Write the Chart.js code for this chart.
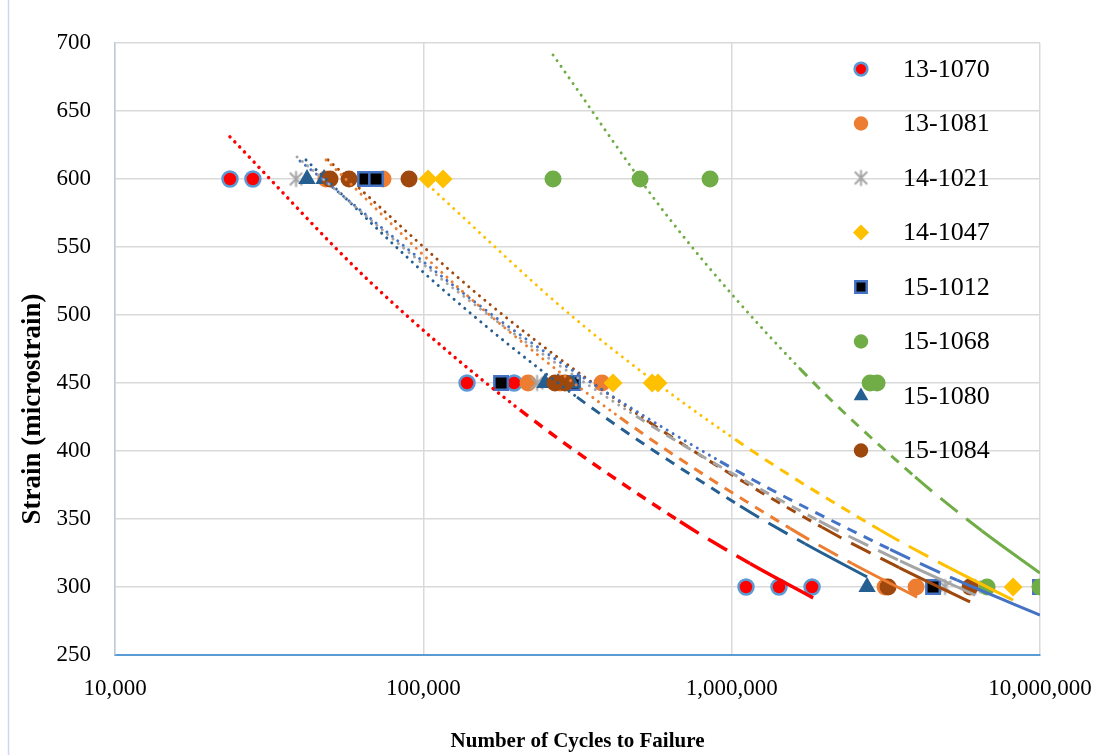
<!DOCTYPE html>
<html>
<head>
<meta charset="utf-8">
<script src="https://cdn.jsdelivr.net/npm/chart.js@4.4.1/dist/chart.umd.min.js"></script>
<style>
  html, body { margin: 0; padding: 0; background: #fff; }
  #wrap { width: 1105px; height: 755px; }
</style>
</head>
<body>
<div id="wrap"><canvas id="chart" width="1105" height="755"></canvas></div>
<script>
// Nomes das séries (legenda)
const seriesNames = ["13-1070", "13-1081", "14-1021", "14-1047", "15-1012", "15-1068", "15-1080", "15-1084"];

// Ciclos até a falha e deformação de cada ensaio
const cycles1070 = [23600, 28000, 138600, 196900, 1113000, 1424000, 1823000];
const strain1070 = [600, 600, 450, 450, 300, 300, 300];
const cycles1081 = [48300, 74000, 218600, 277500, 379800, 3145000, 3963000];
const strain1081 = [600, 600, 450, 450, 450, 300, 300];
const cycles1021 = [38650, 233700, 4920000, 6160000];
const strain1021 = [600, 450, 300, 300];
const cycles1047 = [103600, 115900, 412400, 552000, 577000, 8180000];
const strain1047 = [600, 600, 450, 450, 450, 300];
const cycles1012 = [64700, 70250, 178700, 305900, 4500000, 10000000];
const strain1012 = [600, 600, 450, 450, 300, 300];
const cycles1068 = [263400, 504600, 851000, 2812000, 2962000, 6735000, 10000000];
const strain1068 = [600, 600, 600, 450, 450, 300, 300];
const cycles1080 = [41950, 47640, 248100, 273500, 303600, 2749000];
const strain1080 = [600, 600, 450, 450, 450, 300];
const cycles1084 = [49820, 57410, 89870, 267400, 288100, 3216000, 5933000];
const strain1084 = [600, 600, 600, 450, 450, 300, 300];

// Linhas de tendência, lidas ao longo de cada curva
const trendCycles1070 = [23600, 67160, 205900, 680000, 1147000, 1837000];
const trendStrain1070 = [631, 524.4, 430.2, 348.1, 317.3, 292];
const trendCycles1081 = [48350, 141700, 434500, 1547000, 2458000, 3994000];
const trendStrain1081 = [614, 512.5, 424.6, 343.1, 317.3, 292.6];
const trendCycles1021 = [38930, 131500, 489700, 1920000, 3517000, 6159000];
const trendStrain1021 = [616.2, 515.8, 425.7, 348.6, 319.2, 294.1];
const trendCycles1047 = [103600, 322300, 1026000, 3029000, 5073000, 8180000];
const trendStrain1047 = [595.6, 494.2, 408.6, 341.9, 314.2, 290.4];
const trendCycles1012 = [39820, 177400, 917200, 3265000, 5384000, 10000000];
const trendStrain1012 = [613.2, 495.9, 392.4, 327.7, 305.0, 279.4];
const trendCycles1068 = [263400, 631200, 1667000, 3935000, 6490000, 10000000];
const trendStrain1068 = [691.2, 570.2, 460.4, 381.0, 341.2, 310.3];
const trendCycles1080 = [41640, 113300, 315100, 1065000, 1730000, 2749000];
const trendStrain1080 = [614, 520.5, 439.6, 359.6, 331.8, 307.4];
const trendCycles1084 = [49080, 164600, 539800, 1964000, 3491000, 5933000];
const trendStrain1084 = [614, 507.7, 421.3, 343.9, 314.3, 289];

// Eixos
const xTicks = [10000, 100000, 1000000, 10000000];
const yMin = 250, yMax = 700, yStep = 50;

const allCycles = [cycles1070, cycles1081, cycles1021, cycles1047, cycles1012, cycles1068, cycles1080, cycles1084];
const allStrain = [strain1070, strain1081, strain1021, strain1047, strain1012, strain1068, strain1080, strain1084];
const allTrendCycles = [trendCycles1070, trendCycles1081, trendCycles1021, trendCycles1047, trendCycles1012, trendCycles1068, trendCycles1080, trendCycles1084];
const allTrendStrain = [trendStrain1070, trendStrain1081, trendStrain1021, trendStrain1047, trendStrain1012, trendStrain1068, trendStrain1080, trendStrain1084];

// Estilo
const serif = "'Liberation Serif', 'Times New Roman', serif";
const lineColors = ["#FF0000", "#ED7D31", "#A5A5A5", "#FFC000", "#4472C4", "#70AD47", "#255E91", "#9E480E"];

function makeStar(color, size) {
    const c = document.createElement("canvas");
    c.width = size; c.height = size;
    const g = c.getContext("2d");
    const m = size / 2, r = size / 2 - 1.5, d = r * 0.78;
    g.strokeStyle = color;
    g.lineWidth = 2;
    g.beginPath();
    g.moveTo(m - d, m - d); g.lineTo(m + d, m + d);
    g.moveTo(m + d, m - d); g.lineTo(m - d, m + d);
    g.moveTo(m, m - r); g.lineTo(m, m + r);
    g.stroke();
    return c;
}

const markers = [
    { style: "circle", radius: 7.5, fill: "#FF0000", border: "#5B9BD5", bw: 2.5 },
    { style: "circle", radius: 8.5, fill: "#ED7D31", border: "#ED7D31", bw: 0 },
    { style: makeStar("#A5A5A5", 19), radius: 9, fill: "#A5A5A5", border: "#A5A5A5", bw: 0 },
    { style: "rectRot", radius: 9.5, fill: "#FFC000", border: "#FFC000", bw: 0 },
    { style: "rect", radius: 9.5, fill: "#000000", border: "#4472C4", bw: 2.5 },
    { style: "circle", radius: 8.5, fill: "#70AD47", border: "#70AD47", bw: 0 },
    { style: "triangle", radius: 10, fill: "#255E91", border: "#255E91", bw: 0 },
    { style: "circle", radius: 8.5, fill: "#9E480E", border: "#9E480E", bw: 0 }
];

// pontilhado -> tracejado -> traço longo -> contínuo
const segStyles = ["dot", "dot", "dash", "long", "solid"];
const dashes = { dot: [0.01, 7], dash: [10, 8], long: [22, 11], solid: [] };

const datasets = [];
seriesNames.forEach((name, i) => {
    datasets.push({
        type: "line",
        label: name + " trend",
        isTrend: true,
        order: 0,
        data: allTrendCycles[i].map((c, k) => ({ x: c, y: allTrendStrain[i][k] })),
        borderColor: lineColors[i],
        borderWidth: i === 0 ? 3.5 : 3,
        pointRadius: 0,
        fill: false,
        cubicInterpolationMode: "monotone",
        segment: {
            borderDash: ctx => dashes[segStyles[ctx.p0DataIndex]],
            borderCapStyle: ctx => segStyles[ctx.p0DataIndex] === "dot" ? "round" : "butt"
        }
    });
});
seriesNames.forEach((name, i) => {
    const m = markers[i];
    datasets.push({
        type: "scatter",
        label: name,
        order: 10 - i,
        data: allCycles[i].map((c, k) => ({ x: c, y: allStrain[i][k] })),
        pointStyle: m.style,
        pointRadius: m.radius,
        pointHoverRadius: m.radius,
        pointBackgroundColor: m.fill,
        pointBorderColor: m.border,
        pointBorderWidth: m.bw,
        showLine: false
    });
});

// Legenda à direita, sobre a área do gráfico
const legendPlugin = {
    id: "sideLegend",
    afterDraw(chart) {
        const ctx = chart.ctx;
        const items = chart.data.datasets.filter(d => !d.isTrend);
        ctx.save();
        items.forEach((d, k) => {
            const y = 69 + k * 54.5;
            const x = 861;
            ctx.fillStyle = d.pointBackgroundColor;
            ctx.strokeStyle = d.pointBorderColor;
            ctx.lineWidth = d.pointBorderWidth;
            const r = d.pointRadius * 0.85;
            if (Chart.helpers && Chart.helpers.drawPoint) {
                Chart.helpers.drawPoint(ctx, { pointStyle: d.pointStyle, radius: r, rotation: 0, borderWidth: d.pointBorderWidth }, x, y);
            } else {
                ctx.beginPath(); ctx.arc(x, y, r, 0, Math.PI * 2); ctx.fill();
            }
            ctx.fillStyle = "#000";
            ctx.font = "26px " + serif;
            ctx.textAlign = "left";
            ctx.textBaseline = "middle";
            ctx.fillText(d.label, 903, y + 1);
        });
        ctx.restore();
    }
};

const framePlugin = {
    id: "frameAndTitle",
    beforeDraw(chart) {
        const ctx = chart.ctx;
        ctx.save();
        ctx.strokeStyle = "#C9D9EE";
        ctx.lineWidth = 1.5;
        ctx.beginPath(); ctx.moveTo(8.5, 0); ctx.lineTo(8.5, 755); ctx.stroke();
        ctx.restore();
    },
    afterDraw(chart) {
        const ctx = chart.ctx;
        ctx.save();
        ctx.translate(33, 409);
        ctx.rotate(-Math.PI / 2);
        ctx.fillStyle = "#000";
        ctx.font = "bold 27px " + serif;
        ctx.textAlign = "center";
        ctx.textBaseline = "middle";
        ctx.fillText("Strain (microstrain)", 0, 0);
        ctx.restore();
    }
};

new Chart(document.getElementById("chart"), {
    type: "scatter",
    data: { datasets },
    options: {
        responsive: false,
        animation: false,
        devicePixelRatio: 1,
        layout: { padding: { top: 43, right: 65, left: 0, bottom: 0 } },
        plugins: { legend: { display: false }, tooltip: { enabled: false } },
        scales: {
            x: {
                type: "logarithmic",
                min: xTicks[0],
                max: xTicks[xTicks.length - 1],
                afterBuildTicks: s => { s.ticks = xTicks.map(v => ({ value: v, major: true })); },
                afterFit: s => { s.height = 100; s.paddingRight = 0; s.paddingLeft = 0; },
                ticks: {
                    autoSkip: false,
                    maxRotation: 0,
                    padding: 20,
                    color: "#000",
                    font: { family: serif, size: 23 },
                    callback: v => Number(v).toLocaleString("en-US")
                },
                grid: { color: "#D9D9D9", lineWidth: 1.5, drawTicks: false },
                border: { color: "#5B9BD5", width: 2 },
                title: {
                    display: true,
                    text: "Number of Cycles to Failure",
                    color: "#000",
                    font: { family: serif, size: 21, weight: "bold" },
                    padding: { top: 0, bottom: 1 }
                }
            },
            y: {
                min: yMin,
                max: yMax,
                afterFit: s => { s.width = 115; },
                ticks: {
                    stepSize: yStep,
                    padding: 24,
                    color: "#000",
                    font: { family: serif, size: 23 }
                },
                grid: { color: "#D9D9D9", lineWidth: 1.5, drawTicks: false },
                border: { color: "#BFCBDC", width: 1.5 }
            }
        }
    },
    plugins: [legendPlugin, framePlugin]
});
</script>
</body>
</html>
